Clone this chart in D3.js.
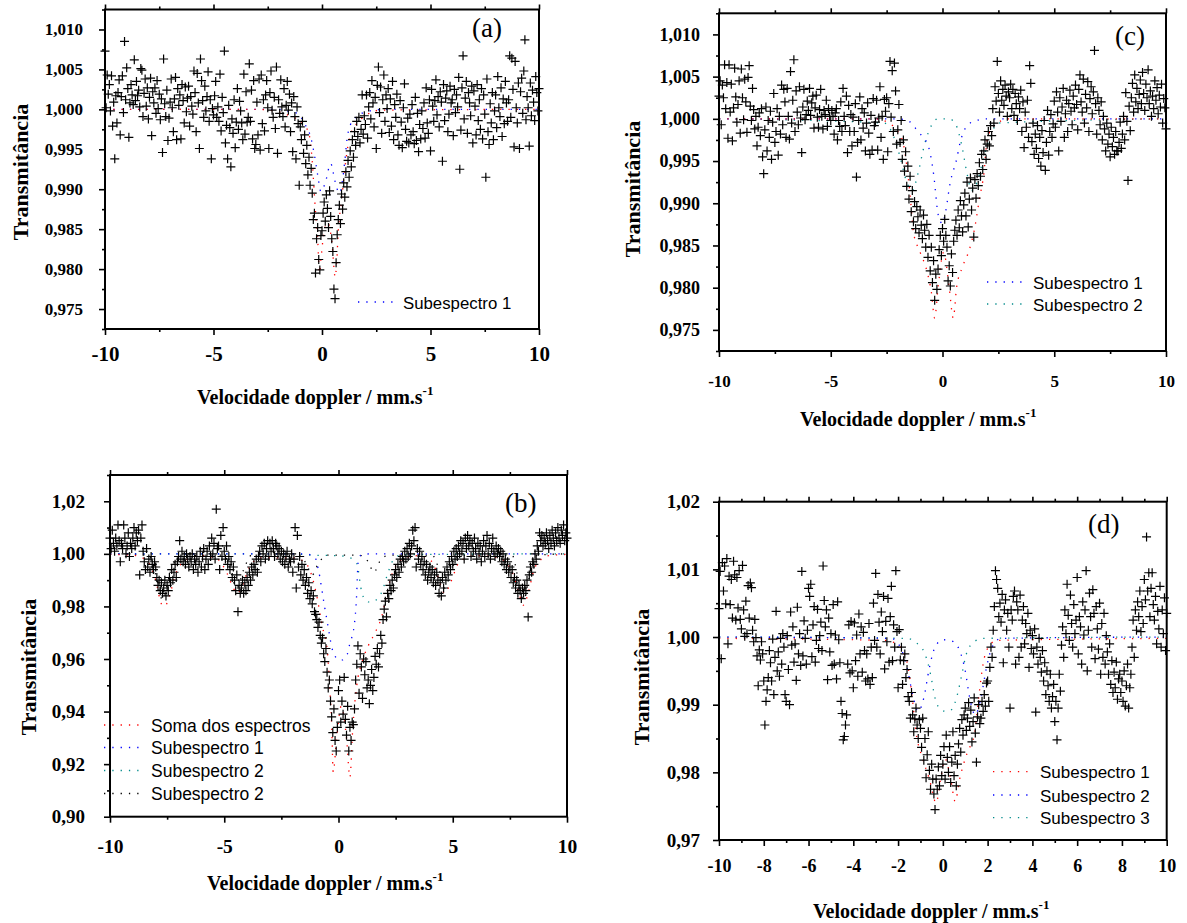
<!DOCTYPE html>
<html>
<head>
<meta charset="utf-8">
<script src="https://cdn.jsdelivr.net/npm/d3@7"></script>
<style>
  body { margin: 0; background: #fff; }
  svg { display: block; }
</style>
</head>
<body>
<div id="container"></div>
<script>
// Transmittance per channel, velocity runs evenly from -10 to 10 mm/s
const transA = [
  1.0073, 1.0002, 1.0043, 1.0019, 1.0031, 0.9998, 1.0042, 0.9979, 1.0009, 0.9938, 1.0017, 0.9983, 1.0021, 1.0037, 0.9968, 1.0016, 1.0042, 0.9996, 1.0085, 1.0012,
  1.0052, 1.0026, 0.9965, 1.0008, 1.0031, 1.0018, 1.0006, 1.0062, 1.0011, 1.0035, 1.0017, 1.0024, 1.0003, 1.0051, 1.0049, 0.9991, 1.0020, 1.0038, 1.0004, 1.0027,
  0.9988, 1.0015, 1.0039, 0.9967, 1.0022, 1.0008, 1.0027, 0.9995, 1.0036, 1.0001, 1.0019, 0.9987, 1.0013, 0.9946, 1.0063, 1.0007, 0.9991, 1.0024, 0.9961, 0.9989,
  1.0009, 1.0038, 1.0002, 0.9972, 1.0013, 1.0040, 0.9962, 1.0026, 1.0005, 1.0018, 0.9963, 1.0031, 1.0011, 0.9983, 1.0028, 0.9997, 1.0014, 1.0029, 0.9979, 1.0016,
  1.0004, 0.9994, 1.0048, 1.0021, 0.9972, 1.0045, 1.0008, 0.9951, 1.0063, 1.0036, 1.0011, 0.9990, 1.0029, 0.9998, 1.0016, 1.0047, 0.9985, 1.0012, 0.9938, 1.0001,
  0.9993, 1.0017, 1.0035, 0.9990, 1.0003, 0.9985, 1.0044, 0.9973, 1.0015, 0.9996, 1.0073, 0.9958, 0.9980, 0.9938, 1.0005, 0.9977, 0.9928, 0.9988, 0.9970, 1.0012,
  0.9952, 0.9984, 1.0026, 0.9975, 1.0010, 0.9998, 0.9983, 0.9962, 1.0044, 0.9969, 1.0022, 0.9984, 0.9990, 1.0057, 0.9985, 1.0024, 0.9963, 1.0036, 0.9951, 0.9956,
  1.0009, 0.9968, 1.0038, 0.9949, 1.0043, 0.9982, 1.0012, 0.9973, 1.0018, 1.0036, 1.0002, 0.9951, 1.0021, 1.0048, 0.9999, 0.9990, 1.0015, 0.9976, 1.0053, 0.9945,
  1.0012, 0.9995, 1.0037, 1.0003, 0.9991, 1.0026, 0.9978, 1.0005, 1.0035, 0.9999, 1.0019, 0.9972, 1.0008, 0.9947, 1.0016, 0.9991, 0.9938, 1.0003, 0.9982, 0.9905,
  0.9978, 0.9962, 0.9985, 0.9945, 0.9968, 0.9932, 0.9955, 0.9918, 0.9940, 0.9905, 0.9926, 0.9895, 0.9862, 0.9870, 0.9795, 0.9838, 0.9852, 0.9812, 0.9799, 0.9842,
  0.9848, 0.9870, 0.9884, 0.9860, 0.9893, 0.9876, 0.9852, 0.9898, 0.9866, 0.9838, 0.9822, 0.9775, 0.9763, 0.9808, 0.9843, 0.9862, 0.9880, 0.9857, 0.9894, 0.9875,
  0.9908, 0.9890, 0.9922, 0.9903, 0.9936, 0.9915, 0.9948, 0.9928, 0.9962, 0.9940, 0.9972, 0.9955, 0.9985, 0.9966, 0.9990, 0.9958, 0.9975, 1.0018, 0.9969, 0.9992,
  0.9981, 1.0018, 0.9964, 1.0003, 1.0021, 0.9988, 1.0036, 1.0008, 0.9978, 1.0015, 0.9951, 1.0030, 1.0053, 0.9996, 1.0028, 0.9970, 1.0012, 1.0043, 0.9985, 1.0018,
  1.0001, 1.0026, 0.9971, 1.0013, 0.9979, 1.0035, 0.9962, 1.0006, 0.9990, 1.0019, 0.9968, 0.9955, 1.0011, 0.9984, 0.9952, 1.0002, 1.0032, 0.9975, 0.9960, 0.9989,
  0.9958, 0.9994, 0.9968, 1.0006, 0.9972, 0.9957, 1.0015, 0.9961, 0.9995, 0.9947, 0.9981, 0.9963, 0.9998, 0.9976, 1.0008, 0.9964, 1.0027, 0.9983, 0.9970, 1.0012,
  0.9948, 1.0025, 1.0004, 0.9985, 1.0011, 1.0037, 0.9993, 1.0016, 0.9978, 1.0022, 1.0009, 0.9935, 1.0031, 0.9986, 1.0014, 1.0023, 0.9972, 0.9994, 1.0029, 1.0008,
  1.0012, 0.9967, 1.0025, 0.9996, 1.0018, 1.0003, 1.0040, 0.9925, 0.9974, 1.0027, 1.0067, 0.9988, 1.0014, 1.0035, 0.9970, 1.0021, 1.0008, 0.9992, 1.0029, 0.9958,
  1.0023, 1.0004, 0.9968, 1.0031, 0.9986, 1.0012, 0.9975, 1.0026, 0.9963, 1.0018, 0.9994, 0.9915, 1.0038, 0.9972, 0.9956, 1.0007, 0.9983, 1.0021, 0.9962, 0.9998,
  1.0018, 0.9977, 1.0041, 1.0002, 0.9991, 1.0027, 0.9966, 1.0013, 0.9982, 1.0035, 1.0008, 0.9985, 1.0012, 1.0067, 0.9990, 1.0064, 1.0025, 0.9953, 1.0060, 1.0002,
  0.9983, 1.0033, 0.9951, 1.0022, 1.0039, 0.9995, 1.0048, 1.0087, 0.9987, 1.0016, 1.0002, 0.9954, 1.0033, 0.9992, 1.0024, 1.0009, 0.9986, 1.0041, 1.0021, 0.9998,
  1.0026
];

const transC = [
  1.0027, 1.0045, 0.9993, 1.0040, 1.0025, 1.0064, 1.0012, 1.0043, 0.9977, 1.0064, 1.0008, 1.0041, 0.9974, 1.0013, 1.0060, 1.0026, 0.9996, 1.0017, 1.0045, 0.9983,
  1.0059, 1.0025, 0.9999, 1.0047, 1.0020, 0.9984, 1.0049, 1.0063, 1.0015, 0.9998, 1.0036, 1.0011, 0.9988, 1.0003, 0.9968, 0.9990, 1.0007, 0.9980, 1.0012, 0.9955,
  0.9935, 0.9987, 1.0014, 0.9962, 0.9998, 0.9978, 1.0009, 0.9952, 0.9996, 1.0030, 0.9972, 0.9985, 1.0012, 0.9957, 1.0003, 0.9982, 1.0040, 0.9993, 1.0035, 1.0020,
  0.9978, 1.0036, 1.0003, 0.9976, 1.0056, 0.9995, 1.0022, 1.0070, 0.9985, 1.0033, 1.0008, 0.9993, 1.0038, 1.0001, 0.9960, 1.0014, 1.0035, 0.9999, 1.0005, 1.0021,
  1.0010, 1.0036, 1.0004, 1.0019, 1.0027, 0.9989, 1.0013, 1.0028, 1.0002, 0.9990, 1.0011, 1.0035, 1.0003, 0.9988, 1.0010, 1.0005, 1.0022, 0.9991, 1.0012, 1.0003,
  0.9998, 1.0010, 1.0003, 0.9982, 1.0007, 1.0012, 0.9975, 0.9998, 0.9991, 1.0020, 0.9985, 1.0036, 1.0003, 0.9992, 1.0027, 0.9960, 1.0016, 0.9985, 1.0005, 0.9968,
  1.0002, 0.9985, 1.0018, 0.9931, 0.9972, 0.9998, 1.0026, 0.9975, 1.0012, 0.9989, 1.0007, 0.9962, 0.9995, 1.0019, 0.9983, 0.9958, 1.0004, 0.9963, 1.0024, 0.9992,
  0.9996, 1.0022, 0.9963, 1.0001, 1.0038, 0.9978, 1.0003, 0.9952, 1.0023, 1.0009, 1.0025, 0.9961, 1.0018, 1.0068, 1.0002, 1.0057, 0.9985, 1.0066, 1.0033, 0.9970,
  0.9987, 1.0017, 0.9972, 0.9998, 0.9952, 0.9975, 0.9938, 0.9961, 0.9920, 0.9944, 0.9905, 0.9932, 0.9890, 0.9915, 0.9878, 0.9902, 0.9870, 0.9896, 0.9884, 0.9865,
  0.9892, 0.9874, 0.9858, 0.9886, 0.9868, 0.9848, 0.9875, 0.9836, 0.9862, 0.9820, 0.9848, 0.9806, 0.9832, 0.9785, 0.9816, 0.9798, 0.9822, 0.9845, 0.9862, 0.9838,
  0.9870, 0.9855, 0.9881, 0.9862, 0.9848, 0.9808, 0.9826, 0.9802, 0.9840, 0.9818, 0.9855, 0.9868, 0.9880, 0.9862, 0.9892, 0.9871, 0.9903, 0.9885, 0.9866, 0.9898,
  0.9912, 0.9885, 0.9925, 0.9872, 0.9905, 0.9930, 0.9892, 0.9918, 0.9860, 0.9928, 0.9906, 0.9935, 0.9921, 0.9948, 0.9932, 0.9958, 0.9940, 0.9962, 0.9975, 0.9952,
  0.9970, 0.9985, 0.9968, 0.9992, 0.9980, 1.0012, 0.9995, 1.0038, 1.0021, 1.0068, 1.0030, 1.0008, 1.0045, 1.0022, 1.0035, 1.0016, 1.0040, 1.0027, 1.0003, 1.0032,
  1.0025, 1.0041, 1.0012, 1.0035, 1.0004, 1.0030, 1.0018, 0.9998, 1.0026, 1.0012, 1.0034, 0.9985, 1.0020, 0.9966, 1.0008, 0.9990, 1.0022, 0.9978, 1.0063, 1.0042,
  0.9973, 0.9995, 0.9958, 0.9982, 0.9965, 0.9992, 0.9953, 0.9978, 0.9944, 0.9986, 0.9960, 0.9998, 0.9939, 0.9972, 1.0010, 0.9957, 0.9985, 1.0005, 0.9978, 0.9994,
  1.0021, 0.9990, 1.0032, 1.0008, 0.9962, 1.0025, 0.9997, 1.0014, 1.0036, 0.9978, 1.0006, 1.0022, 0.9985, 1.0018, 1.0034, 1.0009, 0.9993, 1.0027, 1.0013, 1.0040,
  1.0017, 0.9987, 1.0035, 1.0052, 1.0020, 1.0008, 1.0047, 0.9995, 1.0029, 1.0013, 1.0044, 0.9985, 1.0024, 1.0038, 1.0006, 1.0032, 1.0081, 1.0018, 0.9982, 1.0025,
  1.0010, 0.9993, 1.0020, 0.9975, 1.0003, 0.9988, 0.9962, 0.9995, 0.9970, 0.9982, 0.9955, 0.9990, 0.9967, 0.9978, 0.9958, 0.9985, 0.9962, 0.9962, 0.9972, 0.9996,
  0.9965, 0.9982, 1.0003, 0.9975, 1.0031, 0.9997, 0.9927, 1.0015, 0.9986, 1.0025, 1.0042, 1.0008, 1.0052, 1.0020, 1.0036, 1.0012, 1.0029, 1.0046, 1.0018, 1.0055,
  1.0030, 1.0010, 1.0041, 1.0025, 1.0058, 1.0018, 1.0033, 1.0003, 1.0027, 1.0012, 1.0045, 1.0022, 1.0037, 1.0006, 1.0028, 1.0014, 1.0041, 0.9995, 1.0024, 1.0013,
  0.9988
];

const transB = [
  1.006, 1.002, 1.009, 1.004, 1.001, 1.006, 1.003, 1.011, 1.005, 0.997, 1.004, 1.002, 1.011, 1.006, 1.000, 1.003, 1.008, 0.999, 1.004, 1.002,
  1.006, 1.010, 1.003, 1.008, 1.005, 1.009, 0.992, 1.006, 1.011, 1.001, 0.997, 0.994, 1.002, 0.995, 0.998, 0.993, 0.999, 0.996, 0.994, 0.997,
  0.995, 0.991, 0.988, 0.990, 0.986, 0.989, 0.985, 0.987, 0.990, 0.984, 0.988, 0.986, 0.991, 0.989, 0.994, 0.990, 0.993, 0.996, 0.991, 0.997,
  0.999, 1.005, 0.998, 1.001, 0.997, 0.999, 0.996, 1.000, 0.998, 0.995, 0.999, 0.997, 1.000, 0.994, 0.998, 0.996, 0.999, 0.993, 0.997, 1.001,
  0.995, 0.999, 1.002, 0.994, 0.998, 1.001, 0.996, 1.003, 0.999, 1.006, 1.000, 1.004, 0.998, 1.017, 1.002, 1.003, 0.994, 1.007, 0.999, 1.010,
  1.001, 0.998, 1.003, 0.996, 0.999, 0.994, 0.997, 0.991, 0.995, 0.990, 0.986, 0.992, 0.978, 0.988, 0.985, 0.987, 0.990, 0.985, 0.989, 0.986,
  0.991, 0.988, 0.993, 0.990, 0.995, 0.992, 0.996, 0.994, 0.998, 0.993, 0.999, 1.001, 0.997, 1.003, 1.000, 1.004, 0.998, 1.002, 1.005, 0.999,
  1.004, 1.001, 1.005, 1.002, 0.999, 1.004, 1.003, 1.000, 1.002, 0.998, 1.001, 0.997, 1.000, 0.996, 0.999, 1.001, 0.995, 0.998, 0.997, 1.000,
  0.993, 0.998, 1.010, 0.987, 1.007, 0.995, 0.999, 0.992, 0.996, 0.990, 0.994, 0.988, 0.991, 0.985, 0.989, 0.983, 0.986, 0.981, 0.984, 0.978,
  0.977, 0.975, 0.972, 0.974, 0.969, 0.966, 0.968, 0.962, 0.959, 0.964, 0.955, 0.949, 0.952, 0.944, 0.938, 0.932, 0.941, 0.929, 0.925, 0.934,
  0.948, 0.952, 0.936, 0.944, 0.939, 0.953, 0.937, 0.931, 0.942, 0.925, 0.934, 0.929, 0.936, 0.935, 0.941, 0.952, 0.958, 0.965, 0.947, 0.962,
  0.957, 0.945, 0.960, 0.954, 0.959, 0.949, 0.952, 0.943, 0.950, 0.956, 0.948, 0.953, 0.961, 0.958, 0.964, 0.957, 0.962, 0.969, 0.966, 0.975,
  0.979, 0.982, 0.976, 0.985, 0.983, 0.988, 0.986, 0.990, 0.987, 0.992, 0.994, 0.991, 0.996, 0.993, 0.998, 0.995, 0.999, 0.997, 1.001, 0.998,
  1.002, 0.999, 1.004, 1.000, 1.003, 1.009, 1.005, 1.010, 0.995, 1.002, 0.998, 1.001, 0.996, 0.999, 0.994, 0.997, 0.992, 0.996, 0.990, 0.993,
  0.995, 0.991, 0.994, 0.989, 0.992, 0.988, 0.993, 0.990, 0.985, 0.989, 0.984, 0.991, 0.987, 0.993, 0.990, 0.995, 0.992, 0.997, 0.994, 0.999,
  0.996, 1.001, 0.998, 1.002, 0.999, 1.003, 1.000, 1.005, 1.001, 1.004, 0.998, 1.006, 1.002, 1.007, 1.003, 1.005, 0.999, 1.004, 1.001, 1.006,
  1.002, 0.998, 1.004, 1.000, 1.003, 0.997, 1.001, 1.005, 0.999, 1.003, 1.007, 1.000, 1.004, 0.998, 1.002, 1.006, 1.001, 0.999, 1.003, 1.000,
  1.002, 0.999, 1.001, 0.997, 1.000, 0.996, 0.998, 0.994, 0.997, 0.993, 0.995, 0.991, 0.994, 0.989, 0.991, 0.987, 0.990, 0.985, 0.988, 0.986,
  0.983, 0.987, 0.985, 0.988, 0.986, 0.990, 0.976, 0.992, 0.995, 0.993, 0.997, 0.996, 1.000, 0.998, 1.003, 1.001, 1.008, 1.005, 1.007, 1.003,
  1.006, 1.004, 1.008, 1.005, 1.002, 1.007, 1.004, 1.009, 1.006, 1.003, 1.008, 1.005, 1.010, 1.006, 1.004, 1.009, 1.007, 1.011, 1.005, 1.008,
  1.006
];

const transD = [
  1.0042, 1.0097, 0.9968, 1.0110, 1.0068, 1.0105, 1.0049, 1.0116, 0.9990, 1.0090, 1.0048, 1.0085, 1.0028, 1.0112, 1.0092, 1.0025, 1.0088, 1.0043, 1.0098, 1.0026,
  1.0012, 1.0106, 1.0040, 1.0001, 1.0053, 1.0005, 1.0076, 1.0028, 1.0080, 1.0073, 1.0010, 0.9993, 1.0026, 0.9999, 0.9972, 0.9928, 0.9981, 0.9966, 0.9993, 0.9975,
  0.9935, 0.9870, 0.9905, 0.9922, 0.9940, 0.9980, 0.9962, 0.9935, 0.9997, 0.9915, 0.9970, 1.0038, 0.9950, 0.9978, 0.9942, 0.9998, 0.9960, 1.0005, 0.9985, 0.9915,
  0.9905, 1.0002, 0.9952, 0.9900, 1.0037, 0.9988, 1.0015, 0.9963, 0.9990, 0.9936, 1.0044, 0.9975, 1.0005, 0.9958, 1.0097, 0.9972, 1.0024, 0.9998, 0.9960, 1.0010,
  1.0072, 1.0060, 1.0078, 0.9971, 1.0018, 1.0045, 0.9963, 0.9995, 1.0041, 0.9983, 1.0002, 1.0022, 0.9980, 1.0105, 1.0054, 1.0015, 1.0040, 0.9937, 1.0028, 0.9978,
  1.0005, 0.9958, 1.0048, 0.9960, 1.0003, 0.9938, 1.0052, 0.9996, 0.9962, 0.9905, 0.9887, 0.9848, 0.9853, 0.9870, 0.9885, 0.9960, 1.0018, 0.9947, 1.0023, 0.9950,
  0.9925, 1.0021, 0.9965, 1.0003, 0.9942, 1.0034, 0.9975, 1.0015, 0.9948, 1.0007, 0.9980, 0.9935, 0.9975, 0.9938, 1.0020, 0.9930, 0.9985, 0.9940, 1.0050, 0.9995,
  1.0094, 0.9985, 1.0063, 1.0022, 0.9975, 1.0037, 1.0008, 1.0060, 0.9953, 1.0023, 0.9993, 1.0057, 0.9963, 1.0030, 1.0075, 0.9965, 1.0018, 0.9985, 1.0098, 1.0008,
  0.9925, 1.0011, 0.9966, 0.9985, 0.9930, 0.9965, 0.9975, 0.9940, 0.9952, 0.9912, 0.9905, 0.9880, 0.9918, 0.9885, 0.9860, 0.9879, 0.9895, 0.9870, 0.9850, 0.9878,
  0.9865, 0.9837, 0.9880, 0.9818, 0.9850, 0.9792, 0.9826, 0.9860, 0.9803, 0.9775, 0.9812, 0.9790, 0.9768, 0.9745, 0.9790, 0.9775, 0.9808, 0.9780, 0.9825, 0.9795,
  0.9812, 0.9838, 0.9790, 0.9855, 0.9822, 0.9800, 0.9838, 0.9785, 0.9815, 0.9860, 0.9795, 0.9825, 0.9780, 0.9812, 0.9842, 0.9865, 0.9830, 0.9878, 0.9855, 0.9885,
  0.9895, 0.9862, 0.9880, 0.9903, 0.9868, 0.9892, 0.9845, 0.9875, 0.9910, 0.9858, 0.9815, 0.9882, 0.9900, 0.9872, 0.9880, 0.9905, 0.9890, 0.9915, 0.9898, 0.9932,
  0.9935, 0.9905, 0.9955, 0.9985, 0.9970, 1.0010, 1.0045, 1.0098, 1.0085, 1.0072, 1.0030, 1.0050, 1.0022, 1.0063, 0.9962, 1.0040, 1.0055, 1.0010, 1.0035, 0.9985,
  0.9895, 1.0040, 1.0025, 1.0060, 1.0068, 0.9960, 1.0052, 1.0040, 0.9970, 1.0062, 0.9985, 1.0025, 1.0045, 0.9990, 1.0020, 1.0005, 1.0035, 0.9955, 1.0010, 0.9983,
  1.0002, 0.9975, 1.0012, 0.9889, 0.9985, 0.9960, 0.9998, 0.9970, 0.9948, 0.9980, 0.9935, 0.9962, 0.9915, 0.9950, 0.9928, 0.9905, 0.9945, 0.9895, 0.9912, 0.9930,
  0.9875, 0.9905, 0.9848, 0.9895, 0.9945, 0.9920, 0.9988, 1.0015, 0.9970, 1.0040, 1.0005, 1.0078, 1.0032, 0.9995, 1.0062, 1.0020, 0.9985, 1.0048, 1.0005, 1.0025,
  1.0088, 0.9975, 1.0030, 1.0015, 0.9960, 1.0052, 1.0003, 1.0040, 1.0098, 0.9950, 1.0010, 1.0065, 1.0030, 0.9985, 1.0070, 1.0035, 0.9968, 1.0045, 1.0012, 0.9982,
  1.0050, 0.9945, 1.0020, 0.9970, 1.0035, 0.9960, 1.0002, 0.9978, 0.9945, 0.9990, 0.9930, 0.9965, 0.9918, 0.9948, 0.9925, 0.9963, 0.9908, 0.9938, 0.9945, 0.9918,
  0.9935, 0.9905, 0.9950, 0.9898, 0.9928, 0.9960, 0.9895, 0.9925, 0.9945, 0.9985, 1.0025, 0.9970, 1.0040, 1.0010, 1.0052, 1.0030, 1.0068, 1.0008, 1.0045, 1.0020,
  1.0085, 1.0055, 1.0148, 1.0068, 1.0095, 1.0030, 1.0072, 1.0095, 1.0048, 1.0025, 1.0060, 0.9990, 1.0038, 1.0012, 1.0075, 0.9985, 1.0040, 1.0005, 1.0058, 0.9980,
  1.0035
];

// Fitted curves, [velocity, transmittance]
const fitA_total = [[-10, 1.0], [-3, 1.0], [-2, 0.9997], [-1.5, 0.9992], [-1, 0.9985], [-0.7, 0.9976], [-0.55, 0.9962], [-0.45, 0.9935], [-0.35, 0.9893], [-0.28, 0.9865], [-0.2, 0.9838], [-0.12, 0.9795], [-0.05, 0.9812], [0.1, 0.9848], [0.27, 0.9858], [0.45, 0.9835], [0.61, 0.979], [0.68, 0.981], [0.75, 0.9848], [0.9, 0.9885], [1.05, 0.9925], [1.2, 0.9955], [1.3, 0.9967], [1.6, 0.9982], [2.0, 0.9992], [2.7, 0.9999], [10, 1.0]];
const fitA_sub1 = [[-10, 1.0], [-2, 1.0], [-1.5, 0.9997], [-1.12, 0.9995], [-0.8, 0.9982], [-0.5, 0.9963], [-0.35, 0.9943], [-0.2, 0.9918], [-0.05, 0.9897], [0.15, 0.9908], [0.4, 0.9932], [0.6, 0.991], [0.8, 0.9895], [0.95, 0.9912], [1.05, 0.9935], [1.15, 0.9962], [1.3, 0.998], [1.6, 0.9991], [2.2, 0.9998], [3, 1.0], [10, 1.0]];

const fitC_total = [[-10, 1.0], [-3, 1.0], [-2.4, 0.9995], [-2.0, 0.9985], [-1.75, 0.997], [-1.6, 0.9945], [-1.45, 0.991], [-1.3, 0.9866], [-1.0, 0.9842], [-0.7, 0.982], [-0.5, 0.9795], [-0.35, 0.9764], [-0.2, 0.98], [0.05, 0.9842], [0.3, 0.98], [0.48, 0.9764], [0.63, 0.98], [0.9, 0.9825], [1.2, 0.9845], [1.45, 0.9872], [1.65, 0.9905], [1.85, 0.9935], [2.0, 0.9975], [2.3, 0.9992], [3, 1.0], [10, 1.0]];
const fitC_sub1 = [[-10, 1.0], [-2, 1.0], [-1.5, 0.9997], [-1.1, 0.9985], [-0.63, 0.9967], [-0.4, 0.9935], [-0.19, 0.9886], [0.0, 0.9876], [0.11, 0.9886], [0.35, 0.9925], [0.64, 0.9953], [0.78, 0.9971], [1.08, 0.9991], [1.5, 0.9998], [2, 1.0], [10, 1.0]];
const fitC_sub2 = [[-10, 1.0], [-2.6, 0.9995], [-2.2, 0.998], [-1.9, 0.9955], [-1.6, 0.9925], [-1.35, 0.9915], [-1.1, 0.9935], [-0.8, 0.997], [-0.5, 0.9992], [-0.2, 1.0], [0.3, 1.0], [0.6, 0.9993], [0.85, 0.997], [1.1, 0.9935], [1.3, 0.9915], [1.55, 0.9925], [1.85, 0.9955], [2.15, 0.998], [2.5, 0.9995], [10, 1.0]];

const fitB_total = [[-10, 0.9998], [-9, 0.9995], [-8.4, 0.9975], [-8.0, 0.99], [-7.75, 0.981], [-7.6, 0.98], [-7.4, 0.984], [-7.1, 0.993], [-6.6, 0.998], [-6, 0.9993], [-5.3, 0.998], [-4.9, 0.993], [-4.6, 0.987], [-4.45, 0.985], [-4.2, 0.988], [-3.9, 0.995], [-3.4, 0.9985], [-2, 0.9985], [-1.5, 0.997], [-1.2, 0.9925], [-0.95, 0.984], [-0.7, 0.972], [-0.5, 0.964], [-0.4, 0.952], [-0.3, 0.935], [-0.23, 0.917], [-0.1, 0.928], [0.12, 0.942], [0.35, 0.93], [0.5, 0.915], [0.62, 0.933], [0.8, 0.95], [1.0, 0.958], [1.3, 0.965], [1.6, 0.97], [1.89, 0.9761], [2.03, 0.9812], [2.18, 0.9875], [2.4, 0.9935], [2.55, 0.9958], [2.9, 0.9985], [3.5, 0.9993], [4.1, 0.997], [4.4, 0.99], [4.65, 0.985], [4.9, 0.989], [5.3, 0.997], [6, 0.9993], [7, 0.9985], [7.6, 0.993], [7.9, 0.985], [8.1, 0.9805], [8.3, 0.985], [8.6, 0.995], [9.2, 0.9993], [10, 0.9998]];
const fitB_sub1 = [[-10, 1.0], [-1.5, 1.0], [-1.05, 0.999], [-0.88, 0.994], [-0.63, 0.981], [-0.45, 0.972], [-0.3, 0.9647], [-0.15, 0.961], [0.1, 0.9595], [0.35, 0.961], [0.5, 0.966], [0.68, 0.9723], [0.76, 0.9793], [0.8, 0.9856], [0.83, 0.9926], [0.88, 0.9985], [1.05, 0.9998], [1.5, 1.0], [10, 1.0]];
const fitB_sub2 = [[-10, 1.0], [-2, 1.0], [-1.2, 0.9995], [0, 0.9993], [0.5, 0.9985], [0.8, 0.9964], [1.0, 0.9862], [1.16, 0.9824], [1.4, 0.9816], [1.74, 0.9832], [1.9, 0.9856], [2.18, 0.9932], [2.4, 0.9977], [2.8, 0.9997], [10, 1.0]];
const fitB_sub3 = [[-10, 1.0], [-8.3, 0.9995], [-8.0, 0.992], [-7.7, 0.9825], [-7.4, 0.9915], [-7.0, 0.999], [-5.0, 0.9995], [-4.75, 0.994], [-4.45, 0.987], [-4.15, 0.994], [-3.8, 0.9995], [-1.7, 0.9995], [-1.4, 0.996], [-1.15, 0.992], [-0.9, 0.996], [-0.5, 0.9995], [0.9, 0.9995], [1.3, 0.997], [1.55, 0.993], [1.8, 0.997], [2.2, 0.9995], [4.1, 0.9995], [4.4, 0.994], [4.65, 0.987], [4.95, 0.994], [5.3, 0.9995], [7.6, 0.9995], [7.85, 0.991], [8.1, 0.9825], [8.35, 0.991], [8.7, 0.9995], [10, 1.0]];

const fitD_sub1 = [[-10, 0.9998], [-2.5, 0.9995], [-2.1, 0.999], [-1.8, 0.998], [-1.55, 0.9955], [-1.35, 0.9905], [-1.2, 0.986], [-0.9, 0.982], [-0.6, 0.979], [-0.3, 0.9755], [-0.1, 0.979], [0.1, 0.982], [0.35, 0.979], [0.55, 0.9757], [0.75, 0.979], [1.1, 0.983], [1.4, 0.9855], [1.6, 0.991], [1.75, 0.995], [1.95, 0.998], [2.4, 0.9995], [10, 0.9998]];
const fitD_sub2 = [[-10, 1.0], [-2.3, 0.9998], [-1.9, 0.9985], [-1.6, 0.9955], [-1.35, 0.9915], [-1.1, 0.989], [-0.85, 0.991], [-0.6, 0.9955], [-0.35, 0.9985], [0, 0.9996], [0.4, 0.9994], [0.75, 0.998], [1.0, 0.995], [1.2, 0.991], [1.45, 0.9885], [1.7, 0.991], [1.95, 0.9955], [2.2, 0.9985], [2.6, 0.9998], [10, 1.0]];
const fitD_sub3 = [[-10, 1.0], [-1.6, 0.9998], [-1.2, 0.9992], [-0.8, 0.9975], [-0.55, 0.9945], [-0.35, 0.991], [-0.1, 0.9893], [0.15, 0.989], [0.4, 0.9893], [0.65, 0.9915], [0.85, 0.9945], [1.05, 0.9975], [1.4, 0.9993], [1.8, 0.9998], [10, 1.0]];

// Axis ticks
const yTicksFine = [0.975, 0.980, 0.985, 0.990, 0.995, 1.000, 1.005, 1.010];
const yMinorFine = [0.9725, 0.9775, 0.9825, 0.9875, 0.9925, 0.9975, 1.0025, 1.0075, 1.0125];
const yTicksB = [0.90, 0.92, 0.94, 0.96, 0.98, 1.00, 1.02];
const yMinorB = [0.91, 0.93, 0.95, 0.97, 0.99, 1.01, 1.03];
const yTicksD = [0.97, 0.98, 0.99, 1.00, 1.01, 1.02];
const yMinorD = [0.975, 0.985, 0.995, 1.005, 1.015];
const xTicksWide = [-10, -5, 0, 5, 10];
const xMinorWide = [-7.5, -2.5, 2.5, 7.5];
const xTicksD = [-10, -8, -6, -4, -2, 0, 2, 4, 6, 8, 10];
const xMinorD = [-9, -7, -5, -3, -1, 1, 3, 5, 7, 9];

const serif = "'Liberation Serif', 'Times New Roman', serif";
const sans = "'Liberation Sans', Arial, sans-serif";
const RED = '#ff0000', BLUE = '#0000ff', TEAL = '#008b8b', BLACK = '#000000';

const svg = d3.select('#container')
    .append('svg')
    .attr('width', 1187)
    .attr('height', 923);

const panels = [
    {
        id: 'a', left: 105, top: 9.5, right: 539, bottom: 329,
        yDomain: [0.9725, 1.0125], yTicks: yTicksFine, yMinor: yMinorFine, yDigits: 3, yFont: 17, yPad: 16,
        xTicks: xTicksWide, xMinor: xMinorWide, xFont: 21, xPad: 11,
        points: transA,
        fits: [{ data: fitA_sub1, color: BLUE }, { data: fitA_total, color: RED }],
        legend: { x1: 358, x2: 393, tx: 403, font: 16.8, rows: [{ y: 302, color: BLUE, label: 'Subespectro 1' }] },
        tag: { text: '(a)', x: 472, y: 37 },
        xTitle: { x: 197, y: 404 }, yTitle: { x: 28, y: 172 }
    },
    {
        id: 'c', left: 719, top: 13.3, right: 1166, bottom: 351,
        yDomain: [0.9725, 1.0125], yTicks: yTicksFine, yMinor: yMinorFine, yDigits: 3, yFont: 18, yPad: 13,
        xTicks: xTicksWide, xMinor: xMinorWide, xFont: 17, xPad: 18,
        points: transC,
        fits: [{ data: fitC_sub2, color: TEAL }, { data: fitC_sub1, color: BLUE }, { data: fitC_total, color: RED }],
        legend: {
            x1: 987, x2: 1022, tx: 1033, font: 17,
            rows: [{ y: 282, color: BLUE, label: 'Subespectro 1' }, { y: 304, color: TEAL, label: 'Subespectro 2' }]
        },
        tag: { text: '(c)', x: 1115, y: 45 },
        xTitle: { x: 800, y: 426 }, yTitle: { x: 640, y: 189 }
    },
    {
        id: 'b', left: 110, top: 475, right: 567, bottom: 816.7,
        yDomain: [0.90, 1.03], yTicks: yTicksB, yMinor: yMinorB, yDigits: 2, yFont: 19, yPad: 19,
        xTicks: xTicksWide, xMinor: xMinorWide, xFont: 19.5, xPad: 16,
        points: transB,
        fits: [{ data: fitB_sub3, color: BLACK }, { data: fitB_sub2, color: TEAL }, { data: fitB_sub1, color: BLUE }, { data: fitB_total, color: RED }],
        legend: {
            x1: 104, x2: 140, tx: 151, font: 17.5,
            rows: [
                { y: 725, color: RED, label: 'Soma dos espectros' },
                { y: 747.5, color: BLUE, label: 'Subespectro 1' },
                { y: 770.5, color: TEAL, label: 'Subespectro 2' },
                { y: 793.5, color: BLACK, label: 'Subespectro 2' }
            ]
        },
        tag: { text: '(b)', x: 505, y: 512 },
        xTitle: { x: 207, y: 890 }, yTitle: { x: 36, y: 667 }
    },
    {
        id: 'd', left: 719, top: 501.7, right: 1166.7, bottom: 840,
        yDomain: [0.97, 1.02], yTicks: yTicksD, yMinor: yMinorD, yDigits: 2, yFont: 19, yPad: 13,
        xTicks: xTicksD, xMinor: xMinorD, xFont: 18, xPad: 13,
        points: transD,
        fits: [{ data: fitD_sub3, color: TEAL }, { data: fitD_sub2, color: BLUE }, { data: fitD_sub1, color: RED }],
        legend: {
            x1: 993, x2: 1028, tx: 1040, font: 17,
            rows: [
                { y: 771.7, color: RED, label: 'Subespectro 1' },
                { y: 795, color: BLUE, label: 'Subespectro 2' },
                { y: 817.7, color: TEAL, label: 'Subespectro 3' }
            ]
        },
        tag: { text: '(d)', x: 1088, y: 533 },
        xTitle: { x: 813, y: 918 }, yTitle: { x: 649, y: 677 }
    }
];

const dotted = (sel) => sel
    .attr('fill', 'none')
    .attr('stroke-width', 1.3)
    .attr('stroke-dasharray', '1.3,7');

const styleAxis = (sel, size) => {
    sel.select('.domain').remove();
    sel.attr('font-family', serif).attr('font-size', size).attr('font-weight', 'bold');
    sel.selectAll('line').attr('stroke', '#000').attr('stroke-width', 1.6);
    sel.selectAll('text').attr('fill', '#000');
};

const drawPanel = (p) => {
    const x = d3.scaleLinear().domain([-10, 10]).range([p.left, p.right]);
    const y = d3.scaleLinear().domain(p.yDomain).range([p.bottom, p.top]);
    const g = svg.append('g').attr('id', 'panel-' + p.id);

    g.append('clipPath').attr('id', 'clip-' + p.id)
        .append('rect')
        .attr('x', p.left).attr('y', p.top)
        .attr('width', p.right - p.left).attr('height', p.bottom - p.top);

    const line = d3.line()
        .x(d => x(d[0]))
        .y(d => y(d[1]))
        .curve(d3.curveMonotoneX);

    p.fits.forEach(f => {
        g.append('path')
            .attr('d', line(f.data))
            .attr('stroke', f.color)
            .attr('clip-path', `url(#clip-${p.id})`)
            .call(dotted);
    });

    const n = p.points.length;
    g.append('g')
        .selectAll('path')
        .data(p.points)
        .join('path')
        .attr('transform', (d, i) => `translate(${x(-10 + i * 20 / (n - 1))},${y(d)})`)
        .attr('d', 'M-4.5,0H4.5M0,-4.5V4.5')
        .attr('stroke', '#000')
        .attr('stroke-width', 1.2);

    // axes: bottom + top ticks, left ticks
    const fmtY = d => d.toFixed(p.yDigits).replace('.', ',');

    g.append('g').attr('transform', `translate(0,${p.bottom})`)
        .call(d3.axisBottom(x).tickValues(p.xTicks).tickSize(6).tickPadding(p.xPad).tickFormat(d => String(d)))
        .call(s => styleAxis(s, p.xFont));
    g.append('g').attr('transform', `translate(0,${p.bottom})`)
        .call(d3.axisBottom(x).tickValues(p.xMinor).tickSize(3).tickFormat(''))
        .call(s => styleAxis(s, p.xFont));
    g.append('g').attr('transform', `translate(0,${p.top})`)
        .call(d3.axisTop(x).tickValues(p.xTicks).tickSize(5).tickFormat(''))
        .call(s => styleAxis(s, p.xFont));
    g.append('g').attr('transform', `translate(0,${p.top})`)
        .call(d3.axisTop(x).tickValues(p.xMinor).tickSize(3).tickFormat(''))
        .call(s => styleAxis(s, p.xFont));

    g.append('g').attr('transform', `translate(${p.left},0)`)
        .call(d3.axisLeft(y).tickValues(p.yTicks).tickSize(6).tickPadding(p.yPad).tickFormat(fmtY))
        .call(s => styleAxis(s, p.yFont));
    g.append('g').attr('transform', `translate(${p.left},0)`)
        .call(d3.axisLeft(y).tickValues(p.yMinor).tickSize(3).tickFormat(''))
        .call(s => styleAxis(s, p.yFont));

    g.append('rect')
        .attr('x', p.left).attr('y', p.top)
        .attr('width', p.right - p.left).attr('height', p.bottom - p.top)
        .attr('fill', 'none')
        .attr('stroke', '#000')
        .attr('stroke-width', 2);

    // legend
    const lg = g.append('g');
    p.legend.rows.forEach(r => {
        lg.append('line')
            .attr('x1', p.legend.x1).attr('x2', p.legend.x2)
            .attr('y1', r.y).attr('y2', r.y)
            .attr('stroke', r.color)
            .call(dotted);
        lg.append('text')
            .attr('x', p.legend.tx).attr('y', r.y + 6.5)
            .attr('font-family', sans).attr('font-size', p.legend.font)
            .text(r.label);
    });

    g.append('text')
        .attr('x', p.tag.x).attr('y', p.tag.y)
        .attr('font-family', serif).attr('font-size', 27)
        .text(p.tag.text);

    const xt = g.append('text')
        .attr('x', p.xTitle.x).attr('y', p.xTitle.y)
        .attr('font-family', serif).attr('font-size', 20).attr('font-weight', 'bold');
    xt.append('tspan').text('Velocidade doppler / mm.s');
    xt.append('tspan').attr('dy', -9).attr('font-size', 13).text('-1');

    g.append('text')
        .attr('transform', `translate(${p.yTitle.x},${p.yTitle.y}) rotate(-90)`)
        .attr('text-anchor', 'middle')
        .attr('font-family', serif).attr('font-size', 22).attr('font-weight', 'bold')
        .text('Transmitância');
};

panels.forEach(drawPanel);
</script>
</body>
</html>
